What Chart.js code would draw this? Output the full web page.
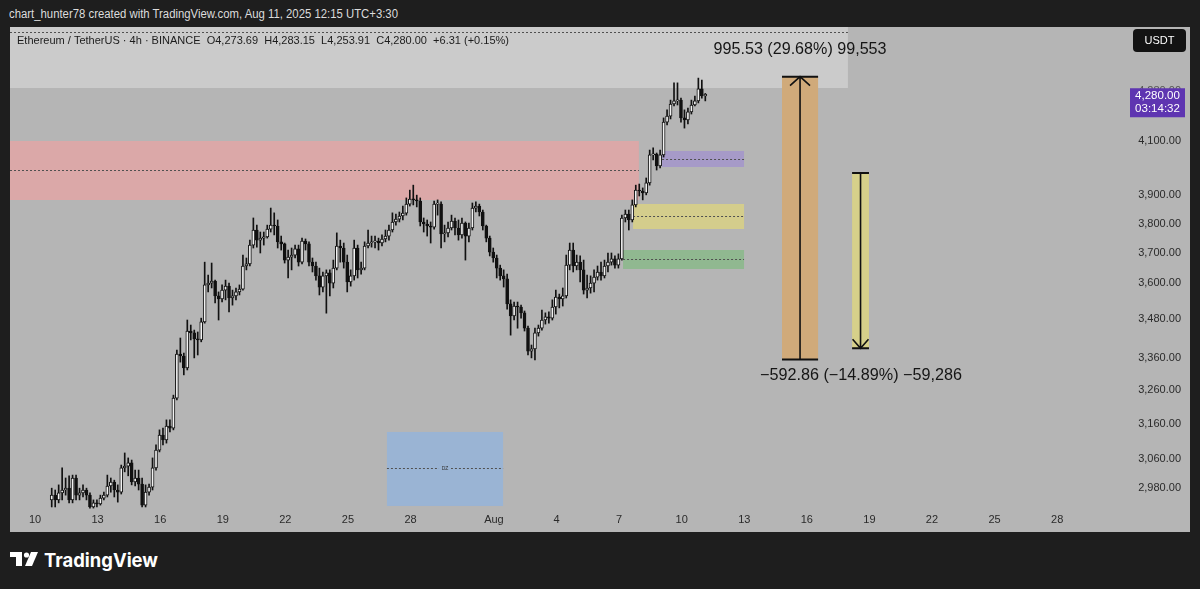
<!DOCTYPE html>
<html>
<head>
<meta charset="utf-8">
<title>ETHUSDT 4h</title>
<script src="https://cdn.jsdelivr.net/npm/chart.js@4.4.1/dist/chart.umd.min.js"></script>
<style>
    html, body {
        margin: 0;
        padding: 0;
        width: 1200px;
        height: 589px;
        overflow: hidden;
        background: #1e1e1e;
        font-family: "Liberation Sans", Arial, sans-serif;
    }
    #topline {
        position: absolute;
        left: 9px;
        top: 6px;
        color: #dcdcdc;
        font-size: 12px;
        line-height: 16px;
        white-space: nowrap;
        transform-origin: left center;
    }
    #pane {
        position: absolute;
        left: 10px;
        top: 27px;
        width: 1180px;
        height: 505px;
        background: #b5b5b5;
    }
    #brand {
        position: absolute;
        left: 10px;
        top: 548px;
        height: 26px;
        color: #ffffff;
    }
    #brand svg {
        position: absolute;
        left: 0;
        top: 4px;
    }
    #brand span {
        position: absolute;
        left: 34px;
        top: 0;
        font-family: Inter, "Liberation Sans", sans-serif;
        font-weight: 700;
        font-size: 19px;
        line-height: 26px;
        white-space: nowrap;
        transform-origin: left center;
    }
</style>
</head>
<body>
<div id="topline">chart_hunter78 created with TradingView.com, Aug 11, 2025 12:15 UTC+3:30</div>
<div id="pane"><canvas id="chart"></canvas></div>
<div id="brand">
    <svg width="30" height="16" viewBox="0 0 30 16">
        <path d="M0 0 H12 V14 H6 V5 H0 Z" fill="#ffffff"/>
        <circle cx="16.5" cy="3" r="2.6" fill="#ffffff"/>
        <path d="M21 0 H28 L22 14 H15 Z" fill="#ffffff"/>
    </svg>
    <span id="brandText">TradingView</span>
</div>
<script>
(function () {
    // 4h candles, x measured in days (Jul 10 = 10, Aug 1 = 32)
    const CANDLE_START_DAY = 10.8;
    const CANDLE_STEP_DAY = 1 / 6;
    const firstOpen = 2948;

    const closes = [
        2961, 2948, 2967, 2975, 2980, 2948, 3008, 2961, 2967, 2975,
        2961, 2929, 2940, 2937, 2953, 2961, 2986, 2997, 2975, 2969,
        3036, 3041, 3050, 2997, 3008, 2991, 2934, 2969, 2983, 3036,
        3086, 3129, 3115, 3155, 3149, 3237, 3371, 3365, 3328, 3443,
        3437, 3418, 3415, 3472, 3592, 3598, 3605, 3556, 3546, 3575,
        3588, 3549, 3556, 3569, 3578, 3655, 3662, 3726, 3778, 3743,
        3750, 3754, 3781, 3795, 3792, 3737, 3730, 3675, 3685, 3692,
        3713, 3668, 3740, 3730, 3668, 3655, 3622, 3585, 3622, 3632,
        3598, 3648, 3723, 3716, 3668, 3602, 3622, 3716, 3642, 3648,
        3723, 3733, 3737, 3740, 3733, 3747, 3757, 3778, 3806, 3816,
        3827, 3837, 3869, 3887, 3884, 3880, 3806, 3799, 3792, 3788,
        3869, 3869, 3764, 3768, 3785, 3809, 3785, 3761, 3802, 3757,
        3785, 3855, 3862, 3841, 3792, 3750, 3702, 3682, 3648, 3622,
        3612, 3530, 3491, 3523, 3520, 3501, 3452, 3380, 3387, 3437,
        3452, 3478, 3488, 3484, 3520, 3552, 3546, 3556, 3658, 3709,
        3655, 3668, 3642, 3575, 3582, 3598, 3618, 3635, 3622, 3655,
        3668, 3679, 3658, 3679, 3820, 3834, 3813, 3866, 3919, 3916,
        3909, 3945, 4048, 4051, 4007, 4048, 4172, 4195, 4242, 4254,
        4257, 4188, 4180, 4211, 4238, 4254, 4301, 4273.69, 4280.00
    ];
    const highs = [
        2980, 2975, 2989, 3036, 3008, 3014, 3016, 3016, 2980, 2989,
        2980, 2967, 2948, 2948, 2961, 2969, 3016, 3008, 3002, 2989,
        3044, 3078, 3064, 3058, 3030, 3030, 3008, 2989, 2991, 3064,
        3101, 3144, 3149, 3173, 3173, 3246, 3383, 3421, 3374, 3478,
        3462, 3446, 3440, 3484, 3668, 3625, 3665, 3608, 3569, 3592,
        3608, 3598, 3575, 3582, 3592, 3692, 3682, 3743, 3820, 3795,
        3771, 3771, 3795, 3855, 3838, 3813, 3757, 3733, 3709, 3716,
        3726, 3726, 3750, 3747, 3737, 3682, 3668, 3648, 3635, 3642,
        3642, 3675, 3768, 3743, 3733, 3692, 3642, 3743, 3726, 3668,
        3737, 3778, 3757, 3757, 3750, 3761, 3778, 3795, 3838, 3834,
        3841, 3862, 3891, 3919, 3937, 3901, 3891, 3820, 3813, 3806,
        3880, 3884, 3877, 3795, 3806, 3830, 3820, 3813, 3820, 3806,
        3802, 3873, 3877, 3869, 3848, 3795, 3757, 3716, 3692, 3658,
        3642, 3628, 3543, 3536, 3536, 3526, 3507, 3459, 3399, 3452,
        3462, 3510, 3501, 3504, 3543, 3575, 3562, 3582, 3692, 3733,
        3733, 3692, 3689, 3675, 3625, 3622, 3642, 3655, 3668, 3675,
        3699, 3699, 3689, 3696, 3830, 3848, 3848, 3884, 3937, 3941,
        3927, 3963, 4066, 4074, 4055, 4066, 4188, 4219, 4257, 4325,
        4325, 4265, 4219, 4226, 4257, 4273, 4344, 4336, 4283.15
    ];
    const lows = [
        2929, 2929, 2940, 2948, 2961, 2940, 2940, 2948, 2948, 2956,
        2948, 2926, 2926, 2929, 2934, 2948, 2956, 2969, 2956, 2942,
        2964, 3025, 3014, 2989, 2986, 2975, 2929, 2929, 2961, 2975,
        3030, 3081, 3101, 3106, 3138, 3144, 3232, 3346, 3307, 3322,
        3415, 3359, 3368, 3409, 3468, 3569, 3582, 3533, 3478, 3536,
        3543, 3504, 3526, 3543, 3559, 3575, 3642, 3655, 3716, 3719,
        3699, 3726, 3750, 3771, 3761, 3716, 3709, 3665, 3615, 3642,
        3682, 3655, 3662, 3709, 3655, 3635, 3608, 3559, 3569, 3500,
        3556, 3582, 3642, 3668, 3648, 3569, 3588, 3608, 3615, 3628,
        3642, 3716, 3719, 3716, 3709, 3723, 3737, 3743, 3771, 3795,
        3806, 3813, 3830, 3862, 3866, 3859, 3792, 3771, 3757, 3733,
        3781, 3830, 3716, 3737, 3754, 3778, 3761, 3743, 3750, 3675,
        3737, 3778, 3841, 3827, 3778, 3737, 3689, 3668, 3615, 3608,
        3585, 3513, 3430, 3478, 3452, 3484, 3443, 3368, 3359, 3353,
        3427, 3446, 3465, 3468, 3478, 3497, 3517, 3523, 3549, 3642,
        3635, 3642, 3602, 3562, 3549, 3565, 3569, 3608, 3608, 3615,
        3635, 3658, 3648, 3648, 3675, 3806, 3778, 3806, 3859, 3898,
        3884, 3902, 3937, 4029, 3992, 4000, 4040, 4161, 4184, 4234,
        4238, 4172, 4149, 4165, 4203, 4234, 4246, 4265, 4253.91
    ];

    // price axis: log scale, TradingView labels
    const yMin = 2920.8;
    const yMax = 4552.9;
    const yTickValues = [4100, 3900, 3800, 3700, 3600, 3480, 3360, 3260, 3160, 3060, 2980];

    // time axis
    const xMin = 8.8;
    const xMax = 61.055;
    const xTickDays = [10, 13, 16, 19, 22, 25, 28, 32, 35, 38, 41, 44, 47, 50, 53, 56, 59];
    const xTickLabels = ['10', '13', '16', '19', '22', '25', '28', 'Aug', '4', '7', '10', '13', '16', '19', '22', '25', '28'];

    // drawn rectangles: header box, supply, purple OB, yellow FVG, green OB, DZ
    const zoneFrom = [8.8, 8.8, 40.06, 38.67, 38.19, 26.87];
    const zoneTo = [48.97, 38.95, 43.99, 43.99, 43.99, 32.44];
    const zoneHigh = [4560, 4100, 4062.6, 3869.4, 3709.2, 3138];
    const zoneLow = [4304.6, 3883.6, 4003.3, 3781.5, 3645, 2931.6];
    const zoneMid = [4532, 3992, 4032.7, 3827, 3678.6, 3035.7];
    const zoneColors = ['#cbcbcb', '#dba8a8', '#a69ac8', '#d4cd8c', '#90b890', '#9ab4d4'];

    // price range tools
    const measureFrom = [45.81, 49.17];
    const measureTo = [47.54, 49.98];
    const measureStart = [3354.2, 3981.6];
    const measureEnd = [4349.7, 3388.7];
    const measureLabels = ['995.53 (29.68%) 99,553', '\u2212592.86 (\u221214.89%) \u221259,286'];
    const measureColors = ['#d0aa7a', '#d6d08a'];

    const headerText = 'Ethereum / TetherUS \u00b7 4h \u00b7 BINANCE  O4,273.69  H4,283.15  L4,253.91  C4,280.00  +6.31 (+0.15%)';
    const countdown = '03:14:32';

    const opens = closes.map((c, i) => i === 0 ? firstOpen : closes[i - 1]);
    const days = closes.map((c, i) => CANDLE_START_DAY + i * CANDLE_STEP_DAY);
    const wickData = days.map((d, i) => ({ x: d, y: [lows[i], highs[i]] }));
    const bodyData = days.map((d, i) => ({ x: d, y: [opens[i], closes[i]] }));
    const bodyFill = closes.map((c, i) => c >= opens[i] ? '#f2f2f2' : '#111111');

    function fmtPrice(v) {
        return v.toLocaleString('en-US', { minimumFractionDigits: 2, maximumFractionDigits: 2 });
    }

    // draw text squeezed/stretched to a measured width
    function fitText(ctx, text, x, y, width, align) {
        const w = ctx.measureText(text).width;
        const sx = width / w;
        ctx.save();
        ctx.textAlign = 'left';
        let left = x;
        if (align === 'center') left = x - width / 2;
        if (align === 'right') left = x - width;
        ctx.translate(left, y);
        ctx.scale(sx, 1);
        ctx.fillText(text, 0, 0);
        ctx.restore();
    }

    const zonePlugin = {
        id: 'zones',
        beforeDatasetsDraw(chart) {
            const { ctx, chartArea, scales: { x, y } } = chart;
            ctx.save();
            ctx.beginPath();
            ctx.rect(chartArea.left, chartArea.top, chartArea.width, chartArea.height);
            ctx.clip();
            zoneFrom.forEach((from, i) => {
                const left = x.getPixelForValue(from);
                const right = x.getPixelForValue(zoneTo[i]);
                const top = y.getPixelForValue(zoneHigh[i]);
                const bottom = y.getPixelForValue(zoneLow[i]);
                ctx.fillStyle = zoneColors[i];
                ctx.fillRect(left, top, right - left, bottom - top);

                const mid = Math.round(y.getPixelForValue(zoneMid[i])) + 0.5;
                ctx.strokeStyle = '#505050';
                ctx.lineWidth = 1;
                ctx.setLineDash([2, 2]);
                ctx.beginPath();
                ctx.moveTo(left, mid);
                ctx.lineTo(right, mid);
                ctx.stroke();
            });
            ctx.setLineDash([]);

            // little label on the demand zone
            const dz = zoneFrom.length - 1;
            const cx = (x.getPixelForValue(zoneFrom[dz]) + x.getPixelForValue(zoneTo[dz])) / 2;
            const cy = Math.round(y.getPixelForValue(zoneMid[dz])) + 0.5;
            ctx.fillStyle = zoneColors[dz];
            ctx.fillRect(cx - 6, cy - 3, 12, 6);
            ctx.fillStyle = '#333';
            ctx.font = '5px "Liberation Sans"';
            ctx.textAlign = 'center';
            ctx.textBaseline = 'middle';
            ctx.fillText('DZ', cx, cy);
            ctx.restore();
        }
    };

    const toolPlugin = {
        id: 'tools',
        afterDatasetsDraw(chart) {
            const { ctx, scales: { x, y } } = chart;
            ctx.save();
            measureFrom.forEach((from, i) => {
                const left = x.getPixelForValue(from);
                const right = x.getPixelForValue(measureTo[i]);
                const cx = (left + right) / 2;
                const y0 = y.getPixelForValue(measureStart[i]);
                const y1 = y.getPixelForValue(measureEnd[i]);
                const dir = y1 < y0 ? -1 : 1;
                ctx.fillStyle = measureColors[i];
                ctx.fillRect(left, Math.min(y0, y1), right - left, Math.abs(y1 - y0));

                ctx.strokeStyle = '#111';
                ctx.lineWidth = 2;
                ctx.beginPath();
                ctx.moveTo(left, y0); ctx.lineTo(right, y0);
                ctx.moveTo(left, y1); ctx.lineTo(right, y1);
                ctx.stroke();

                ctx.lineWidth = 1.6;
                ctx.beginPath();
                ctx.moveTo(cx, y0); ctx.lineTo(cx, y1);
                const wing = Math.min(10, (right - left) / 2 - 0.5);
                ctx.moveTo(cx - wing, y1 - dir * 9); ctx.lineTo(cx, y1); ctx.lineTo(cx + wing, y1 - dir * 9);
                ctx.stroke();

                ctx.fillStyle = '#161616';
                ctx.font = '16px "Liberation Sans"';
                ctx.textBaseline = 'middle';
                fitText(ctx, measureLabels[i], i === 0 ? cx : cx + 0.5, y1 + dir * 27, i === 0 ? 173 : 202, 'center');
            });
            ctx.restore();
        },
        afterDraw(chart) {
            const { ctx, chartArea, scales: { y } } = chart;
            ctx.save();
            ctx.textBaseline = 'middle';

            // symbol line
            ctx.fillStyle = '#1c1c1c';
            ctx.font = '11px "Liberation Sans"';
            fitText(ctx, headerText, 7, 13.5, 492, 'left');

            // currency button
            ctx.fillStyle = '#131313';
            ctx.beginPath();
            ctx.roundRect(1123, 2, 53, 23, 4);
            ctx.fill();
            ctx.fillStyle = '#ffffff';
            ctx.font = '11px "Liberation Sans"';
            ctx.textAlign = 'center';
            ctx.fillText('USDT', 1149.5, 14);

            // last price label
            const lastClose = closes[closes.length - 1];
            const py = y.getPixelForValue(lastClose);
            ctx.fillStyle = '#555';
            ctx.textAlign = 'right';
            ctx.fillText(fmtPrice(lastClose), 1171, py - 3);
            ctx.fillStyle = '#5e35b1';
            ctx.fillRect(1120, py - 6, 55, 29);
            ctx.fillStyle = '#ffffff';
            ctx.font = '11.5px "Liberation Sans"';
            ctx.textAlign = 'center';
            ctx.fillText(fmtPrice(lastClose), 1147.5, py + 2);
            ctx.fillText(countdown, 1147.5, py + 15);
            ctx.restore();
        }
    };

    const ctx = document.getElementById('chart').getContext('2d');
    new Chart(ctx, {
        type: 'bar',
        data: {
            datasets: [
                {
                    data: wickData,
                    backgroundColor: '#111111',
                    barThickness: 1,
                    grouped: false,
                    order: 2
                },
                {
                    data: bodyData,
                    backgroundColor: bodyFill,
                    borderColor: '#111111',
                    borderWidth: 1,
                    borderSkipped: false,
                    barThickness: 3,
                    minBarLength: 1,
                    grouped: false,
                    order: 1
                }
            ]
        },
        options: {
            responsive: true,
            maintainAspectRatio: false,
            animation: false,
            events: [],
            layout: { padding: { left: 0, top: 0, bottom: 0, right: 9 } },
            plugins: {
                legend: { display: false },
                tooltip: { enabled: false }
            },
            scales: {
                x: {
                    type: 'linear',
                    min: xMin,
                    max: xMax,
                    offset: false,
                    grid: { display: false, drawTicks: false },
                    border: { display: false },
                    ticks: {
                        autoSkip: false,
                        maxRotation: 0,
                        padding: 3,
                        color: '#2a2a2a',
                        font: { family: 'Liberation Sans', size: 11 },
                        callback: (v) => {
                            const k = xTickDays.indexOf(v);
                            return k >= 0 ? xTickLabels[k] : '';
                        }
                    },
                    afterBuildTicks: (scale) => {
                        scale.ticks = xTickDays.map(d => ({ value: d }));
                    },
                    afterFit: (scale) => {
                        scale.height = 22;
                        scale.paddingLeft = 0;
                        scale.paddingRight = 0;
                    }
                },
                y: {
                    type: 'logarithmic',
                    position: 'right',
                    min: yMin,
                    max: yMax,
                    grid: { display: false, drawTicks: false },
                    border: { display: false },
                    ticks: {
                        autoSkip: false,
                        crossAlign: 'far',
                        color: '#2a2a2a',
                        font: { family: 'Liberation Sans', size: 11 },
                        callback: (v) => fmtPrice(v)
                    },
                    afterBuildTicks: (scale) => {
                        scale.ticks = yTickValues.map(v => ({ value: v }));
                    },
                    afterFit: (scale) => {
                        scale.width = 81;
                        scale.paddingTop = 0;
                        scale.paddingBottom = 0;
                    }
                }
            }
        },
        plugins: [zonePlugin, toolPlugin]
    });

    // fit the page-level texts to the widths in the screenshot
    function fitEl(id, width) {
        const el = document.getElementById(id);
        const w = el.getBoundingClientRect().width;
        el.style.transform = 'scaleX(' + (width / w) + ')';
    }
    fitEl('topline', 389);
    fitEl('brandText', 114);
})();
</script>
</body>
</html>
